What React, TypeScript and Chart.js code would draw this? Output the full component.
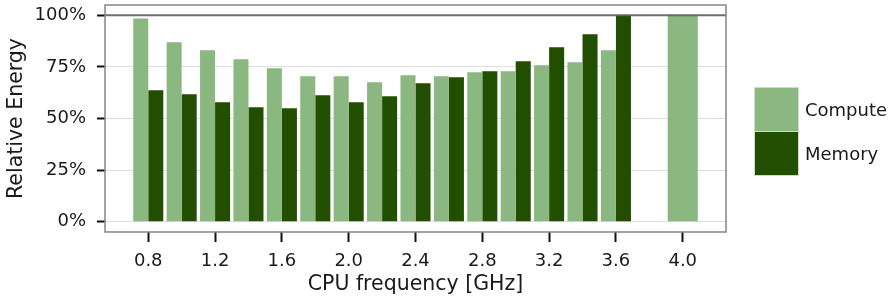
import React, { useEffect, useRef } from 'react';
import { Chart, registerables } from 'chart.js';

Chart.register(...registerables);

const frequencies = [0.8, 1.0, 1.2, 1.4, 1.6, 1.8, 2.0, 2.2, 2.4, 2.6, 2.8, 3.0, 3.2, 3.4, 3.6, 4.0];
const computeEnergy = [98.5, 86.9, 83.1, 78.7, 74.4, 70.5, 70.5, 67.6, 71.0, 70.5, 72.4, 72.9, 75.8, 77.3, 83.1, 100];
const memoryEnergy: (number | null)[] = [63.7, 61.8, 57.9, 55.5, 55.0, 61.3, 57.9, 60.8, 67.1, 70.0, 72.9, 77.7, 84.5, 90.8, 100, null];
const xTicks = [0.8, 1.2, 1.6, 2.0, 2.4, 2.8, 3.2, 3.6, 4.0];
const yTicks = [0, 25, 50, 75, 100];
const seriesNames = ['Compute', 'Memory'];
const seriesColors = ['#8bb780', '#224e00'];

const FONT = "'DejaVu Sans', sans-serif";
const TEXT = '#1a1a1a';

const panelPlugin = {
  id: 'panel',
  afterDatasetsDraw(chart: any) {
    const { ctx, chartArea, scales } = chart;
    const y100 = scales.y.getPixelForValue(100);
    ctx.save();
    ctx.strokeStyle = 'rgba(95,95,95,0.9)';
    ctx.lineWidth = 2;
    ctx.beginPath();
    ctx.moveTo(chartArea.left, y100);
    ctx.lineTo(chartArea.right, y100);
    ctx.stroke();
    ctx.strokeStyle = '#858585';
    ctx.lineWidth = 1.5;
    ctx.strokeRect(chartArea.left, chartArea.top, chartArea.right - chartArea.left, chartArea.bottom - chartArea.top);
    ctx.restore();
  },
};

export default function App() {
  const canvasRef = useRef<HTMLCanvasElement>(null);

  useEffect(() => {
    if (!canvasRef.current) return;
    const chart = new Chart(canvasRef.current, {
      type: 'bar',
      data: {
        datasets: [
          {
            label: seriesNames[0],
            data: frequencies.map((f, i) => ({ x: f, y: computeEnergy[i] })),
            backgroundColor: seriesColors[0],
            borderWidth: 0,
            skipNull: true,
            categoryPercentage: 0.9,
            barPercentage: 1.0,
          } as any,
          {
            label: seriesNames[1],
            data: frequencies.map((f, i) => ({ x: f, y: memoryEnergy[i] })),
            backgroundColor: seriesColors[1],
            borderWidth: 0,
            skipNull: true,
            categoryPercentage: 0.9,
            barPercentage: 1.0,
          } as any,
        ],
      },
      options: {
        animation: false,
        responsive: false,
        devicePixelRatio: 1,
        layout: { padding: { left: 0, right: 167, top: 5, bottom: 0 } },
        plugins: {
          legend: { display: false },
          tooltip: { enabled: false },
        },
        scales: {
          x: {
            type: 'linear',
            min: 0.541,
            max: 4.259,
            offset: false,
            afterBuildTicks: (s: any) => {
              s.ticks = xTicks.map((v) => ({ value: v }));
            },
            afterFit: (s: any) => {
              s.height = 69;
              s.paddingLeft = 0;
              s.paddingRight = 0;
            },
            border: { display: false },
            grid: {
              offset: false,
              drawOnChartArea: false,
              drawTicks: true,
              tickLength: 10,
              tickColor: '#111',
              tickWidth: 2,
            },
            ticks: {
              color: TEXT,
              font: { family: FONT, size: 18 },
              padding: 9,
              maxRotation: 0,
              autoSkip: false,
              callback: (v: any) => Number(v).toFixed(1),
            },
            title: {
              display: true,
              text: 'CPU frequency [GHz]',
              color: TEXT,
              font: { family: FONT, size: 20.5 },
              padding: { top: 0, bottom: 4 },
            },
          },
          y: {
            type: 'linear',
            min: -5,
            max: 105,
            afterBuildTicks: (s: any) => {
              s.ticks = yTicks.map((v) => ({ value: v }));
            },
            afterFit: (s: any) => {
              s.width = 105;
              s.paddingTop = 0;
              s.paddingBottom = 0;
            },
            border: { display: false },
            grid: {
              color: (c: any) => (c.tick && c.tick.value === 100 ? 'rgba(0,0,0,0)' : '#dedede'),
              lineWidth: 1,
              drawTicks: true,
              tickLength: 8,
              tickColor: '#111',
              tickWidth: 2,
            },
            ticks: {
              color: TEXT,
              font: { family: FONT, size: 18 },
              padding: 11,
              autoSkip: false,
              callback: (v: any) => `${v}%`,
            },
            title: {
              display: true,
              text: 'Relative Energy',
              color: TEXT,
              font: { family: FONT, size: 20.5 },
              padding: { top: 4, bottom: 0 },
            },
          },
        },
      } as any,
      plugins: [panelPlugin],
    });
    return () => chart.destroy();
  }, []);

  const legendBox = (color: string): React.CSSProperties => ({
    width: 43,
    height: 43,
    background: color,
    border: '1px solid #d6d6d6',
    boxSizing: 'content-box',
  });

  return (
    <div style={{ position: 'absolute', left: 0, top: 0, width: 893, height: 301, background: '#fff' }}>
      <canvas ref={canvasRef} width={893} height={301} style={{ width: 893, height: 301, display: 'block' }} />
      <div style={{ position: 'absolute', left: 754, top: 87, fontFamily: FONT, fontSize: 18, color: TEXT }}>
        {seriesNames.map((name, i) => (
          <div key={name} style={{ display: 'flex', alignItems: 'center', marginTop: i === 0 ? 0 : -1 }}>
            <div style={legendBox(seriesColors[i])} />
            <span style={{ marginLeft: 6, lineHeight: '45px' }}>{name}</span>
          </div>
        ))}
      </div>
    </div>
  );
}
